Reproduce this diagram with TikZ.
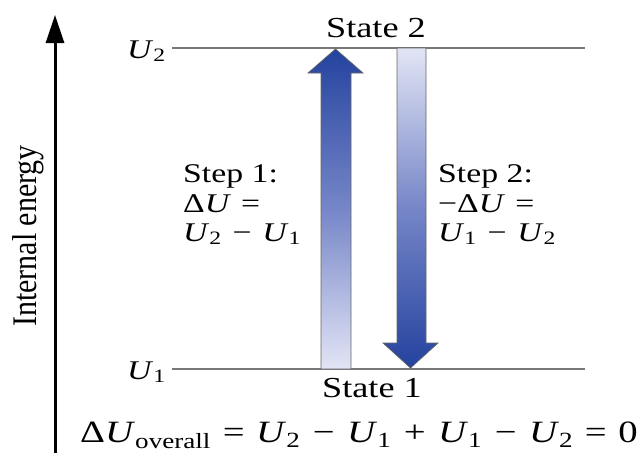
\documentclass[tikz,border=0pt]{standalone}
\usepackage{fontspec}
\setmainfont{Liberation Serif}
\usepackage{graphicx}
\usetikzlibrary{arrows.meta}

\definecolor{darkblue}{RGB}{36,66,158}
\definecolor{midblue}{RGB}{118,134,200}
\definecolor{paleblue}{RGB}{226,229,245}
\definecolor{levelgray}{RGB}{120,120,120}

\newcommand\wide[1]{\scalebox{1.25}[1]{#1}}
\newcommand\UU[1]{\textit{U}\textsubscript{#1}}
\newcommand\rel[1]{\hspace{0.3em}#1\hspace{0.3em}}
\newcommand\bin[1]{\hspace{0.32em}#1\hspace{0.32em}}

\tikzset{
  lbl/.style={font=\fontsize{#1}{#1}\selectfont, inner sep=0pt},
  lbl/.default=27,
  level/.style={levelgray, line width=1.1pt},
  bar/.style={draw=gray!80!black, line width=0.7pt},
}

\begin{document}
\begin{tikzpicture}[x=1pt,y=-1pt,line join=miter]
  \useasboundingbox (0,0) rectangle (643,453);
  % energy axis
  \draw[line width=3pt,-{Triangle[length=28pt,width=18pt]}] (55,453) -- (55,15);
  \node[lbl=30,rotate=90] (axis) at (28,236) {\scalebox{1}[1.15]{Internal energy}};
  % levels
  \node[lbl=27,anchor=base east] (u2) at (166,58) {\wide{\UU{2}}};
  \node[lbl=27,anchor=base east] (u1) at (166,379) {\wide{\UU{1}}};
  \coordinate (l2) at (172,48);
  \coordinate (l1) at (172,369);
  \draw[level] (l2) -- ++(413,0);
  \draw[level] (l1) -- ++(413,0);
  % step 1, up
  \draw[bar,top color=darkblue,bottom color=paleblue,middle color=midblue]
    (321,369) -- (321,73) -- (308,73) -- (335.5,49) -- (363,73) -- (351,73) -- (351,369) -- cycle;
  % step 2, down
  \draw[bar,top color=paleblue,bottom color=darkblue,middle color=midblue]
    (397,48) -- (397,343) -- (383,343) -- (410.5,368) -- (438,343) -- (426,343) -- (426,48) -- cycle;
  \node[lbl=29,anchor=base] (state2) at (376,37) {\wide{State 2}};
  \node[lbl=29,anchor=base] (state1) at (372,397) {\wide{State 1}};
  \node[lbl=27,anchor=base west] (step1) at (183,182) {\wide{Step 1:}};
  \node[lbl=27,anchor=base west] (du1) at (183,212) {\wide{Δ\textit{U}\rel{=}}};
  \node[lbl=27,anchor=base west] (diff1) at (183,241) {\wide{\UU{2}\bin{−}\UU{1}}};
  \node[lbl=27,anchor=base west] (step2) at (438,182) {\wide{Step 2:}};
  \node[lbl=27,anchor=base west] (du2) at (438,212) {\wide{−Δ\textit{U}\rel{=}}};
  \node[lbl=27,anchor=base west] (diff2) at (438,241) {\wide{\UU{1}\bin{−}\UU{2}}};
  \node[lbl=31,anchor=base west] (overall) at (80,442)
    {\wide{Δ\textit{U}\textsubscript{overall}\rel{=}\UU{2}\bin{−}\UU{1}\bin{+}\UU{1}\bin{−}\UU{2}\rel{=}0}};
\end{tikzpicture}
\end{document}
